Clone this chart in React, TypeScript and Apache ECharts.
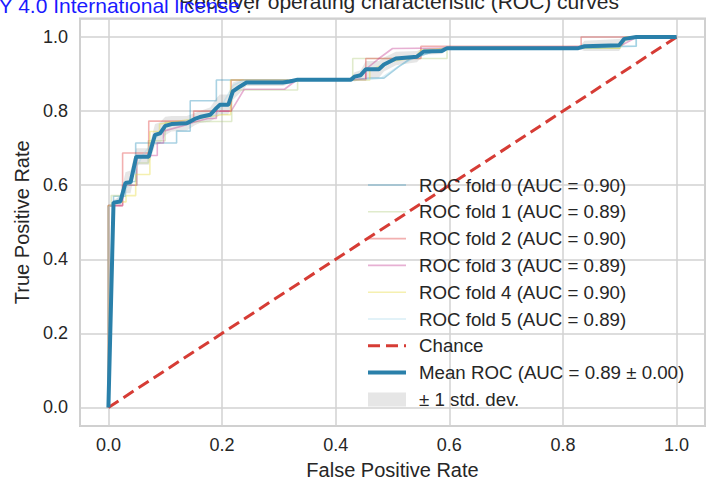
import React, { useEffect, useRef } from "react";
import * as echarts from "echarts";

// ---- data ----
const fold0: number[][] = [[0,0],[0,0.545],[0.009,0.545],[0.009,0.57],[0.03,0.57],[0.03,0.61],[0.048,0.61],[0.048,0.714],[0.12,0.714],[0.12,0.746],[0.144,0.746],[0.144,0.828],[0.19,0.828],[0.19,0.884],[0.43,0.884],[0.46,0.889],[0.485,0.889],[0.511,0.92],[0.53,0.94],[0.56,0.955],[0.59,0.97],[0.86,0.97],[0.88,0.975],[0.929,0.975],[0.929,1.0],[1,1]];
const fold1: number[][] = [[0,0],[0,0.545],[0.005,0.545],[0.005,0.572],[0.025,0.572],[0.025,0.6],[0.05,0.6],[0.05,0.66],[0.07,0.66],[0.07,0.72],[0.1,0.72],[0.1,0.77],[0.187,0.772],[0.217,0.772],[0.217,0.857],[0.333,0.857],[0.333,0.886],[0.43,0.886],[0.43,0.942],[0.596,0.942],[0.596,0.97],[0.9,0.97],[0.91,0.99],[0.93,1],[1,1]];
const fold2: number[][] = [[0,0],[0,0.545],[0.025,0.545],[0.025,0.687],[0.071,0.687],[0.071,0.773],[0.15,0.773],[0.15,0.8],[0.216,0.8],[0.216,0.884],[0.453,0.884],[0.453,0.942],[0.55,0.942],[0.55,0.975],[0.832,0.975],[0.832,1.0],[1,1]];
const fold3: number[][] = [[0,0],[0,0.545],[0.025,0.545],[0.025,0.6],[0.05,0.6],[0.05,0.68],[0.086,0.68],[0.086,0.714],[0.097,0.714],[0.097,0.746],[0.13,0.76],[0.15,0.77],[0.175,0.78],[0.19,0.78],[0.19,0.8],[0.216,0.8],[0.239,0.859],[0.31,0.859],[0.333,0.886],[0.453,0.886],[0.453,0.913],[0.476,0.942],[0.5,0.969],[0.9,0.975],[0.93,1],[1,1]];
const fold4: number[][] = [[0,0],[0,0.545],[0.01,0.545],[0.01,0.555],[0.031,0.555],[0.031,0.572],[0.048,0.572],[0.048,0.629],[0.073,0.629],[0.073,0.745],[0.09,0.745],[0.09,0.765],[0.2,0.79],[0.215,0.79],[0.215,0.884],[0.46,0.884],[0.46,0.91],[0.5,0.935],[0.54,0.945],[0.55,0.965],[0.6,0.97],[0.9,0.97],[0.91,1.0],[1,1]];
const fold5: number[][] = [[0,0],[0,0.54],[0.015,0.56],[0.035,0.6],[0.05,0.65],[0.06,0.68],[0.08,0.72],[0.1,0.76],[0.14,0.775],[0.19,0.79],[0.22,0.87],[0.24,0.884],[0.45,0.884],[0.48,0.889],[0.51,0.92],[0.54,0.945],[0.58,0.965],[0.6,0.97],[0.85,0.97],[0.929,0.975],[0.929,1],[1,1]];
const foldNames = [
  "ROC fold 0 (AUC = 0.90)",
  "ROC fold 1 (AUC = 0.89)",
  "ROC fold 2 (AUC = 0.90)",
  "ROC fold 3 (AUC = 0.89)",
  "ROC fold 4 (AUC = 0.90)",
  "ROC fold 5 (AUC = 0.89)",
];
const chance: number[][] = [[0, 0], [1, 1]];
const meanFpr = [0,0.009,0.021,0.030,0.039,0.049,0.071,0.082,0.091,0.100,0.111,0.138,0.152,0.161,0.179,0.190,0.196,0.211,0.219,0.231,0.243,0.307,0.319,0.333,0.427,0.433,0.444,0.453,0.476,0.485,0.506,0.543,0.555,0.587,0.596,0.827,0.838,0.899,0.908,0.929,1.0];
const meanTpr = [0,0.553,0.556,0.606,0.608,0.677,0.677,0.736,0.740,0.760,0.765,0.767,0.779,0.784,0.790,0.808,0.817,0.817,0.853,0.866,0.877,0.877,0.880,0.885,0.885,0.893,0.897,0.913,0.913,0.926,0.942,0.947,0.961,0.962,0.970,0.970,0.975,0.978,0.995,1.0,1.0];
const upperTpr = [0,0.56,0.57,0.635,0.64,0.70,0.70,0.765,0.77,0.785,0.787,0.787,0.795,0.80,0.81,0.835,0.845,0.845,0.877,0.884,0.886,0.886,0.886,0.887,0.887,0.905,0.91,0.935,0.935,0.945,0.96,0.962,0.97,0.97,0.972,0.972,0.99,0.995,1.0,1.0,1.0];
const lowerTpr = [0,0.546,0.543,0.578,0.578,0.655,0.655,0.708,0.712,0.735,0.745,0.748,0.762,0.768,0.772,0.782,0.79,0.79,0.83,0.848,0.868,0.868,0.874,0.883,0.883,0.88,0.884,0.89,0.89,0.907,0.924,0.932,0.952,0.954,0.968,0.968,0.962,0.962,0.99,1.0,1.0];
const tickLabels = ["0.0", "0.2", "0.4", "0.6", "0.8", "1.0"];

const FONT = "'Liberation Sans', Arial, Helvetica, sans-serif";
const TXT = "#262626";
const foldColors = [
  "rgba(40,142,185,0.4)",
  "rgba(177,205,127,0.4)",
  "rgba(222,57,57,0.4)",
  "rgba(195,57,145,0.4)",
  "rgba(230,217,57,0.4)",
  "rgba(157,212,230,0.4)",
];

function fmt(v: number): string {
  const k = Math.round(v * 5);
  if (Math.abs(v * 5 - k) > 1e-6 || k < 0 || k > 5) return "";
  return tickLabels[k];
}

export default function App() {
  const ref = useRef<HTMLDivElement>(null);
  useEffect(() => {
    if (!ref.current) return;
    const chart = echarts.init(ref.current, null, { renderer: "svg" });
    const folds = [fold0, fold1, fold2, fold3, fold4, fold5];
    const series: any[] = [];
    series.push({
      type: "custom",
      name: "± 1 std. dev.",
      z: 1,
      itemStyle: { color: "rgba(128,128,128,0.2)" },
      data: [[0, 0]],
      renderItem: (_params: any, api: any) => {
        const pts: number[][] = [];
        for (let i = 0; i < meanFpr.length; i++) pts.push(api.coord([meanFpr[i], upperTpr[i]]));
        for (let i = meanFpr.length - 1; i >= 0; i--) pts.push(api.coord([meanFpr[i], lowerTpr[i]]));
        return {
          type: "polygon",
          shape: { points: pts },
          style: { fill: "rgba(128,128,128,0.2)", stroke: "none" },
        };
      },
    });
    folds.forEach((d, i) => {
      series.push({
        type: "line",
        name: foldNames[i],
        data: d,
        symbol: "none",
        z: 2,
        color: foldColors[i],
        itemStyle: { opacity: 0 },
        lineStyle: { width: 1.6, color: foldColors[i] },
      });
    });
    series.push({
      type: "line",
      name: "Chance",
      data: chance,
      symbol: "none",
      z: 3,
      color: "#d63c35",
      itemStyle: { opacity: 0 },
      lineStyle: { width: 3, color: "#d63c35", type: [12, 6] },
    });
    series.push({
      type: "line",
      name: "Mean ROC (AUC = 0.89 ± 0.00)",
      data: meanFpr.map((x, i) => [x, meanTpr[i]]),
      symbol: "none",
      z: 4,
      color: "#2a80aa",
      itemStyle: { opacity: 0 },
      lineStyle: { width: 4, color: "#2a80aa" },
    });

    const axisCommon = {
      type: "value",
      min: -0.05,
      max: 1.05,
      splitNumber: 5,
      axisLine: { show: false },
      axisTick: { show: false },
      splitLine: { show: true, lineStyle: { color: "#d2d2d2", width: 1.5 } },
      nameLocation: "middle",
      nameTextStyle: { fontFamily: FONT, fontSize: 20, color: TXT },
    };

    chart.setOption({
      animation: false,
      backgroundColor: "#ffffff",
      textStyle: { fontFamily: FONT },
      grid: {
        left: 80,
        right: 0.5,
        top: 18.5,
        bottom: 58.5,
        show: true,
        borderColor: "#cccccc",
        borderWidth: 2,
        backgroundColor: "transparent",
      },
      xAxis: {
        ...axisCommon,
        name: "False Positive Rate",
        nameGap: 34,
        axisLabel: { formatter: fmt, fontFamily: FONT, fontSize: 18, color: TXT, margin: 10 },
      },
      yAxis: {
        ...axisCommon,
        name: "True Positive Rate",
        nameGap: 48,
        axisLabel: { formatter: fmt, fontFamily: FONT, fontSize: 18, color: TXT, margin: 12 },
      },
      legend: {
        orient: "vertical",
        left: 361,
        top: 170.5,
        itemWidth: 38,
        itemHeight: 14,
        itemGap: 7.8,
        selectedMode: false,
        lineStyle: { width: "inherit" },
        textStyle: { fontFamily: FONT, fontSize: 18.7, color: TXT, lineHeight: 18, padding: [0, 0, 0, 8] },
        data: [
          ...foldNames,
          "Chance",
          "Mean ROC (AUC = 0.89 ± 0.00)",
          { name: "± 1 std. dev.", icon: "rect", itemStyle: { color: "#e6e6e6", opacity: 1 } },
        ],
      },
      graphic: [
        {
          type: "text",
          z: 10,
          style: {
            text: "Receiver operating characteristic (ROC) curves",
            x: 399,
            y: 1.5,
            align: "center",
            verticalAlign: "middle",
            fontFamily: FONT,
            fontSize: 21,
            fill: TXT,
          },
        },
        {
          type: "text",
          z: 11,
          style: {
            text: "Y 4.0 International license",
            x: 240,
            y: 5,
            align: "right",
            verticalAlign: "middle",
            fontFamily: FONT,
            fontSize: 21,
            fill: "#1a1aff",
          },
        },
        {
          type: "text",
          z: 11,
          style: {
            text: ".",
            x: 246,
            y: 5,
            align: "left",
            verticalAlign: "middle",
            fontFamily: FONT,
            fontSize: 21,
            fill: TXT,
          },
        },
      ],
      series,
    });
    return () => chart.dispose();
  }, []);
  return (
    <div
      ref={ref}
      style={{ position: "fixed", left: 0, top: 0, width: 708, height: 485, background: "#fff" }}
    />
  );
}
